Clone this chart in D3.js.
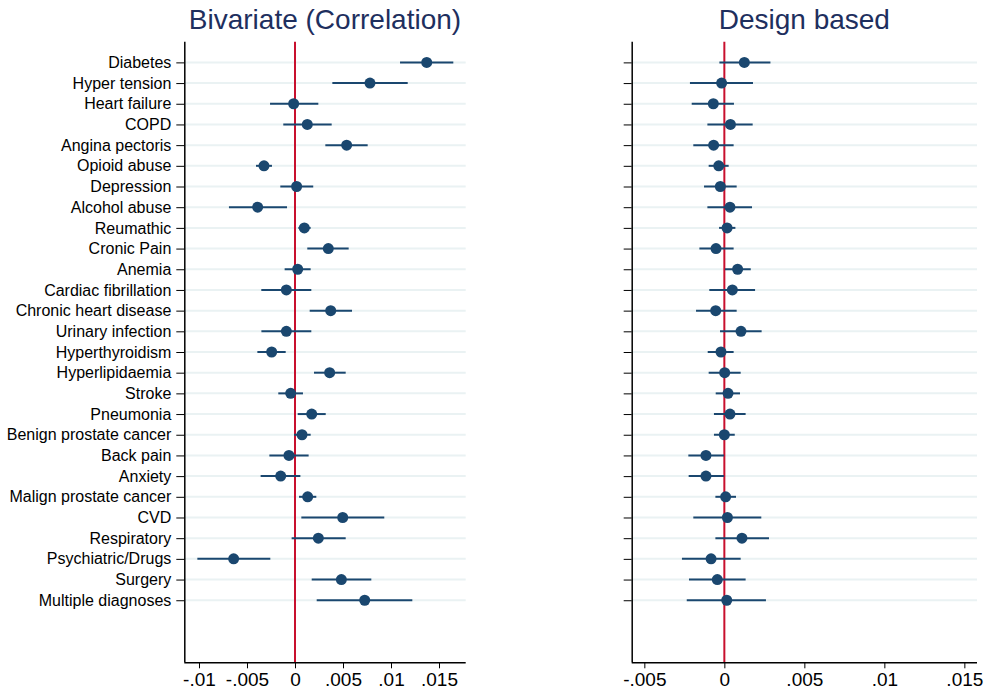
<!DOCTYPE html>
<html>
<head>
<meta charset="utf-8">
<script src="https://cdn.jsdelivr.net/npm/d3@7"></script>
<style>
  body { margin: 0; background: #fff; }
  text { font-family: "Liberation Sans", Arial, sans-serif; }
</style>
</head>
<body>
<svg id="chart" width="985" height="696"></svg>
<script>
// 类别
const labels = ['Diabetes', 'Hyper tension', 'Heart failure', 'COPD', 'Angina pectoris', 'Opioid abuse',
  'Depression', 'Alcohol abuse', 'Reumathic', 'Cronic Pain', 'Anemia', 'Cardiac fibrillation',
  'Chronic heart disease', 'Urinary infection', 'Hyperthyroidism', 'Hyperlipidaemia', 'Stroke',
  'Pneumonia', 'Benign prostate cancer', 'Back pain', 'Anxiety', 'Malign prostate cancer', 'CVD',
  'Respiratory', 'Psychiatric/Drugs', 'Surgery', 'Multiple diagnoses']

// Bivariate (Correlation)
const bivEst = [0.01372, 0.00781, -0.00014, 0.00128, 0.00538, -0.00323, 0.00017, -0.00389, 0.00097, 0.00347,
  0.00028, -0.0009, 0.00372, -0.0009, -0.00243, 0.00361, -0.00045, 0.00174, 0.00073, -0.00063, -0.00149,
  0.00132, 0.00497, 0.00243, -0.00639, 0.00483, 0.00726]
const bivLo = [0.01094, 0.00389, -0.0026, -0.00122, 0.00316, -0.00406, -0.00153, -0.00688, 0.00035, 0.00128,
  -0.00108, -0.00351, 0.00153, -0.0035, -0.00392, 0.00198, -0.00174, 0.00028, -0.0001, -0.00267, -0.00358,
  0.00042, 0.00066, -0.00035, -0.01017, 0.00174, 0.00226]
const bivHi = [0.01649, 0.01174, 0.00243, 0.00382, 0.00757, -0.0024, 0.0019, -0.00083, 0.00163, 0.00559,
  0.00163, 0.0017, 0.00594, 0.0017, -0.00097, 0.00528, 0.00083, 0.0032, 0.00163, 0.00142, 0.00056,
  0.00222, 0.0093, 0.00528, -0.00257, 0.00795, 0.01222]

// Design based
const desEst = [0.00125, -0.00017, -0.00069, 0.00038, -0.00067, -0.00035, -0.00025, 0.00035, 0.00017, -0.00052,
  0.00083, 0.0005, -0.00054, 0.00104, -0.00021, 0.00002, 0.00023, 0.00035, 0, -0.00115, -0.00115,
  0.00008, 0.00019, 0.0011, -0.00083, -0.00044, 0.00015]
const desLo = [-0.00031, -0.00215, -0.00204, -0.00106, -0.00194, -0.00098, -0.00127, -0.00106, -0.00033, -0.00156,
  0.00004, -0.00094, -0.00177, -0.00027, -0.00104, -0.00098, -0.00054, -0.00065, -0.00065, -0.00225, -0.00223,
  -0.00056, -0.00194, -0.00056, -0.00265, -0.00221, -0.00235]
const desHi = [0.00288, 0.00179, 0.0006, 0.00177, 0.00058, 0.00027, 0.00077, 0.00173, 0.00069, 0.00058,
  0.00165, 0.00192, 0.00077, 0.00233, 0.00058, 0.00102, 0.00098, 0.00133, 0.00065, -0.00002, -0.00002,
  0.00073, 0.00231, 0.00279, 0.00102, 0.00133, 0.0026]

// 刻度
const bivTicks = [-0.01, -0.005, 0, 0.005, 0.01, 0.015]
const desTicks = [-0.005, 0, 0.005, 0.01, 0.015]

const navy = '#1a476f'
const titleColor = '#1e2f5e'
const svg = d3.select('#chart')

/**
 * 格式化刻度 (Stata 风格: -.01, .005, 0)
 */
function fmtTick(v) {
  if (v === 0) return '0'
  return String(+v.toFixed(4)).replace('0.', '.')
}

/**
 * 画一个面板
 */
function drawPanel(opt) {
  const { left, right, top, bottom, domain, ticks, est, lo, hi, title, showLabels } = opt
  const x = d3.scaleLinear().domain(domain).range([left, right])
  const y = d3.scaleLinear().domain([0, 30]).range([top, bottom])
  const g = svg.append('g')
  const rows = labels.map((d, i) => ({ name: d, i: i + 1, est: est[i], lo: lo[i], hi: hi[i] }))

  // 网格线
  g.selectAll('.grid').data(rows).join('line')
    .attr('x1', left).attr('x2', right)
    .attr('y1', (d) => y(d.i)).attr('y2', (d) => y(d.i))
    .attr('stroke', '#eaf2f3').attr('stroke-width', 2)

  // 零线
  g.append('line')
    .attr('x1', x(0)).attr('x2', x(0)).attr('y1', top).attr('y2', bottom)
    .attr('stroke', '#c8102e').attr('stroke-width', 2)

  // 置信区间
  g.selectAll('.ci').data(rows).join('line')
    .attr('x1', (d) => x(d.lo)).attr('x2', (d) => x(d.hi))
    .attr('y1', (d) => y(d.i)).attr('y2', (d) => y(d.i))
    .attr('stroke', navy).attr('stroke-width', 2)

  // 点
  g.selectAll('.pt').data(rows).join('circle')
    .attr('cx', (d) => x(d.est)).attr('cy', (d) => y(d.i)).attr('r', 5.5)
    .attr('fill', navy)

  // x 轴
  const xAxis = g.append('g').attr('transform', `translate(0,${bottom})`)
    .call(d3.axisBottom(x).tickValues(ticks).tickFormat(fmtTick).tickSize(6).tickPadding(4))
  xAxis.select('.domain').attr('d', `M${left},0.5H${right}`).attr('stroke', '#000').attr('stroke-width', 1.5)
  xAxis.selectAll('.tick line').attr('stroke', '#000')
  xAxis.selectAll('.tick text').attr('font-size', 19).attr('fill', '#000')

  // y 轴
  const yAxis = g.append('g').attr('transform', `translate(${left},0)`)
    .call(d3.axisLeft(y).tickValues(d3.range(1, 28)).tickSize(8).tickPadding(5)
      .tickFormat((d) => (showLabels ? labels[d - 1] : '')))
  yAxis.select('.domain').attr('d', `M0.5,${top}V${bottom}`).attr('stroke', '#000').attr('stroke-width', 1.5)
  yAxis.selectAll('.tick line').attr('stroke', '#000')
  yAxis.selectAll('.tick text').attr('font-size', 16).attr('fill', '#000')

  // 标题
  svg.append('text')
    .attr('x', (left + right) / 2).attr('y', 29)
    .attr('text-anchor', 'middle').attr('font-size', 28).attr('fill', titleColor)
    .text(title)
}

drawPanel({
  left: 184.3, right: 465.7, top: 41.7, bottom: 662.3,
  domain: [-0.01153, 0.01778], ticks: bivTicks,
  est: bivEst, lo: bivLo, hi: bivHi, title: 'Bivariate (Correlation)', showLabels: true
})

drawPanel({
  left: 631.7, right: 977, top: 41.7, bottom: 662.3,
  domain: [-0.00579, 0.01579], ticks: desTicks,
  est: desEst, lo: desLo, hi: desHi, title: 'Design based', showLabels: false
})
</script>
</body>
</html>
